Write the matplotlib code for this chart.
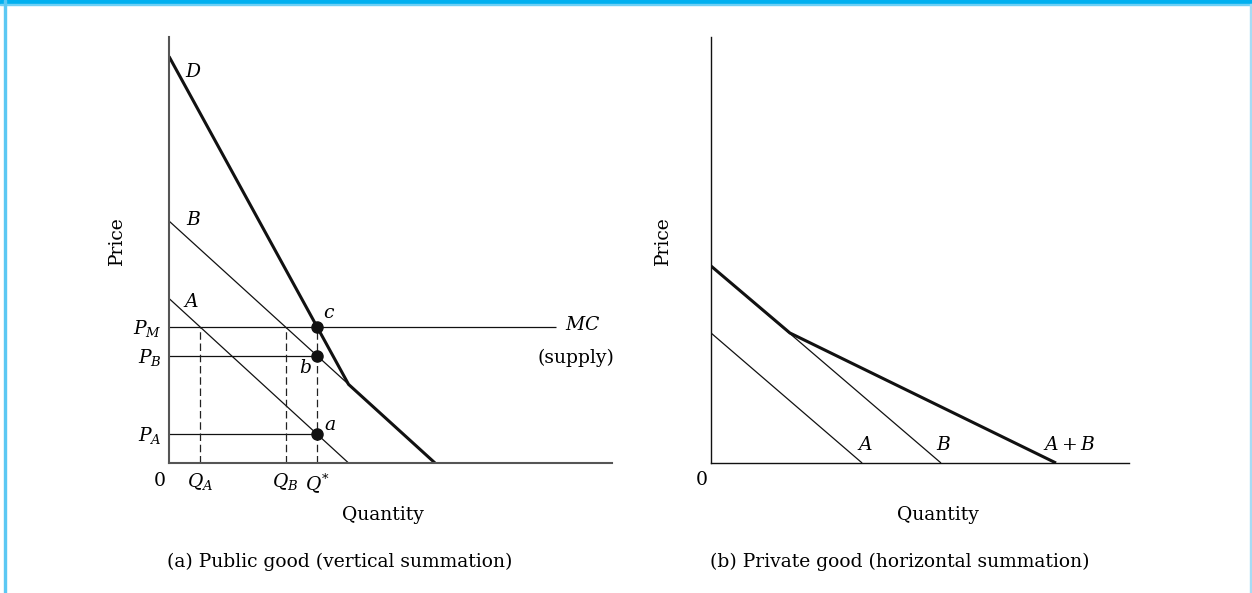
import matplotlib.pyplot as plt
from matplotlib.patches import Rectangle

plt.rcParams['font.family'] = 'DejaVu Serif'
plt.rcParams['mathtext.fontset'] = 'dejavuserif'

""" Data """

# panel (a): public good, individual demands as (quantity intercept, price intercept)
demand_a_public = (6.75, 6.8)
demand_b_public = (10.0, 10.0)
mc_price = 5.62
mc_end = 14.55

# panel (b): private good
demand_a_private_q = [0.0, 6.57]
demand_a_private_p = [6.6, 0.0]
demand_b_private_q = [0.0, 10.0]
demand_b_private_p = [10.0, 0.0]
sum_private_q = [0.0, 3.43, 15.0]
sum_private_p = [10.0, 6.6, 0.0]

W, H = 1252, 593
fig = plt.figure(figsize=(W / 100, H / 100), dpi=100)

# frame decoration: cyan bar on top, thin borders left and right
fig.patches.append(Rectangle((0, 1 - 4 / H), 1, 4 / H, transform=fig.transFigure,
                             color='#00b0f0', zorder=0))
fig.patches.append(Rectangle((0, 1 - 5 / H), 1, 1 / H, transform=fig.transFigure,
                             color='#6fd0f5', zorder=0))
fig.patches.append(Rectangle((4 / W, 0), 2 / W, 1, transform=fig.transFigure,
                             color='#5cc8f3', zorder=0))
fig.patches.append(Rectangle((1250 / W, 0), 2 / W, 1 - 4 / H, transform=fig.transFigure,
                             color='#a6dcf5', zorder=0))


def px_axes(x0, y0, x1, y1):
    return fig.add_axes([x0 / W, 1 - y1 / H, (x1 - x0) / W, (y1 - y0) / H])


def line_price(d, q):
    qi, pi = d
    return max(pi * (1 - q / qi), 0.0)


FS = 13.5
thin = dict(color='#111111', lw=0.9, solid_capstyle='butt')
thick = dict(color='#111111', lw=2.2, solid_capstyle='butt', solid_joinstyle='miter')
dash = dict(color='#222222', lw=0.9, ls=(0, (6, 3)))

""" Panel (a) """

ax = px_axes(169, 37, 612, 463)
ax.set_xlim(0, 443 / 26.6)
ax.set_ylim(0, 426 / 24.2)

qa, pa = demand_a_public
qb, pb = demand_b_public
ax.plot([0, qa], [pa, 0], **thin)
ax.plot([0, qb], [pb, 0], **thin)
# vertical summation
d_q = [0, qa, qb]
d_p = [pa + pb, line_price(demand_b_public, qa), 0]
ax.plot(d_q, d_p, **thick)

# equilibrium
q_star = (pa + pb - mc_price) / (pa / qa + pb / qb)
q_a = qa * (1 - mc_price / pa)
q_b = qb * (1 - mc_price / pb)
p_a = line_price(demand_a_public, q_star)
p_b = line_price(demand_b_public, q_star)

ax.plot([0, mc_end], [mc_price, mc_price], **thin)
ax.plot([0, q_star], [p_b, p_b], **thin)
ax.plot([0, q_star], [p_a, p_a], **thin)
ax.plot([q_a, q_a], [0, mc_price], **dash)
ax.plot([q_b, q_b], [0, mc_price], **dash)
ax.plot([q_star, q_star], [0, mc_price], **dash)
ax.plot([q_star] * 3, [mc_price, p_b, p_a], 'o', color='#111111', ms=8, zorder=5)

for s in ('top', 'right'):
    ax.spines[s].set_visible(False)
for s in ('left', 'bottom'):
    ax.spines[s].set_color('#555555')
    ax.spines[s].set_linewidth(1.5)
ax.set_xticks([])
ax.set_yticks([])

ax.text(0.6, 16.16, '$D$', fontsize=FS, va='center')
ax.text(0.64, 10.04, '$B$', fontsize=FS, va='center')
ax.text(0.53, 6.65, '$A$', fontsize=FS, va='center')
ax.text(5.79, 6.2, '$c$', fontsize=FS, va='center')
ax.text(4.89, 3.93, '$b$', fontsize=FS, va='center')
ax.text(5.83, 1.57, '$a$', fontsize=FS, va='center')
ax.text(14.89, 5.70, '$MC$', fontsize=FS, va='center')
ax.text(13.87, 4.34, '(supply)', fontsize=FS, va='center')

for lab, y in (('$P_M$', mc_price), ('$P_B$', p_b), ('$P_A$', p_a)):
    ax.annotate(lab, xy=(0, y), xytext=(-5, -1), textcoords='offset points',
                ha='right', va='center', fontsize=FS)
for lab, x in (('$Q_A$', q_a), ('$Q_B$', q_b), ('$Q^{*}$', q_star)):
    ax.annotate(lab, xy=(x, 0), xytext=(0, -6), textcoords='offset points',
                ha='center', va='top', fontsize=FS)
ax.annotate('0', xy=(0, 0), xytext=(-6.5, -13), textcoords='offset points',
            ha='center', va='center', fontsize=FS)
ax.text(-0.117, 0.521, 'Price', transform=ax.transAxes, rotation=90,
        ha='center', va='center', fontsize=FS)
ax.text(0.484, -0.122, 'Quantity', transform=ax.transAxes,
        ha='center', va='center', fontsize=FS)

""" Panel (b) """

bx = px_axes(711, 37, 1129, 463)
bx.set_xlim(0, 418 / 23)
bx.set_ylim(0, 426 / 19.7)

bx.plot(demand_a_private_q, demand_a_private_p, **thin)
bx.plot(demand_b_private_q, demand_b_private_p, **thin)
bx.plot(sum_private_q, sum_private_p, **thick)

for s in ('top', 'right'):
    bx.spines[s].set_visible(False)
for s in ('left', 'bottom'):
    bx.spines[s].set_color('#111111')
    bx.spines[s].set_linewidth(1.0)
bx.set_xticks([])
bx.set_yticks([])

bx.text(6.35, 0.91, '$A$', fontsize=FS, va='center')
bx.text(9.78, 0.91, '$B$', fontsize=FS, va='center')
bx.text(14.43, 0.91, '$A + B$', fontsize=FS, va='center')
bx.annotate('0', xy=(0, 0), xytext=(-7, -12.5), textcoords='offset points',
            ha='center', va='center', fontsize=FS)
bx.text(-0.115, 0.521, 'Price', transform=bx.transAxes, rotation=90,
        ha='center', va='center', fontsize=FS)
bx.text(0.543, -0.122, 'Quantity', transform=bx.transAxes,
        ha='center', va='center', fontsize=FS)

fig.text(167 / W, 1 - 562 / H, '(a) Public good (vertical summation)',
         ha='left', va='center', fontsize=FS)
fig.text(710 / W, 1 - 562 / H, '(b) Private good (horizontal summation)',
         ha='left', va='center', fontsize=FS)

fig.savefig('out.png', dpi=100)
